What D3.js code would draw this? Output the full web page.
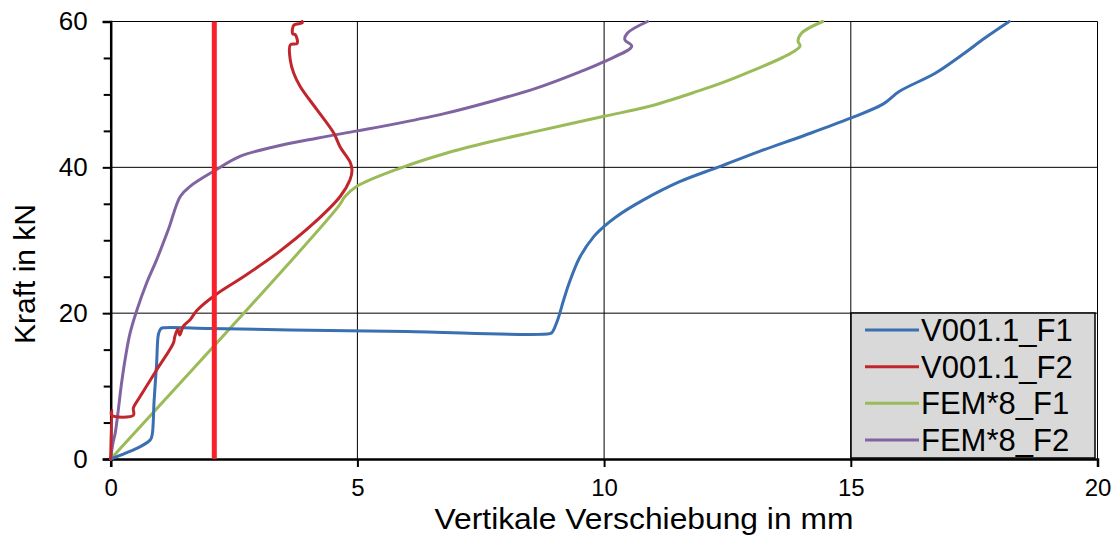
<!DOCTYPE html>
<html><head><meta charset="utf-8">
<script src="https://cdn.jsdelivr.net/npm/d3@7"></script>
<style>body{margin:0;background:#fff}svg{display:block}text{font-family:"Liberation Sans",Arial,sans-serif;fill:#000}</style>
</head><body>
<script>
const xTicks = [0, 5, 10, 15, 20];
const yTicks = [0, 20, 40, 60];
const yMinor = [5, 10, 15, 25, 30, 35, 45, 50, 55];
const seriesNames = ["V001.1_F1", "V001.1_F2", "FEM*8_F1", "FEM*8_F2"];
const seriesColors = ["#3a6fb2", "#c0262c", "#9bbb59", "#8064a2"];

const v1F1x = [0, 0.3, 0.6, 0.8, 0.84, 0.88, 0.93, 0.97, 1.02, 1.1, 2, 3.64, 6, 8.9, 8.95, 9.06, 9.18, 9.29, 9.51, 9.79, 10.0, 10.24, 10.79, 11.52, 12.34, 13.15, 14.07, 14.98, 15.66, 15.98, 16.71, 17.25, 17.71, 18.21];
const v1F1y = [0, 0.8, 1.7, 2.6, 3.3, 8, 13, 17.2, 17.9, 18.0, 17.9, 17.7, 17.5, 17.2, 17.4, 19.1, 21.8, 24.1, 27.7, 30.5, 31.9, 33.2, 35.5, 38.0, 40.1, 42.2, 44.4, 46.7, 48.7, 50.4, 52.9, 55.4, 57.7, 60];

const v1F2x = [0, 0.02, 0.02, 0.46, 0.46, 0.59, 0.93, 1.27, 1.30, 1.36, 1.40, 1.47, 1.61, 1.75, 2.12, 2.69, 3.37, 4.11, 4.65, 4.85, 4.89, 4.86, 4.65, 4.52, 4.18, 3.84, 3.71, 3.64, 3.64, 3.78, 3.74, 3.69, 3.71, 3.88, 3.88];
const v1F2y = [0, 6.7, 6.0, 6.0, 7.0, 8.5, 12.2, 15.9, 16.8, 17.8, 17.0, 18.2, 19.1, 20.4, 22.5, 25.0, 28.2, 32.3, 36.0, 38.3, 39.5, 40.6, 42.8, 44.7, 47.9, 51.1, 52.9, 54.7, 56.8, 57.0, 58.2, 58.3, 59.5, 59.8, 60];

const femF1x = [0, 4.6, 4.75, 4.99, 5.87, 6.78, 7.69, 8.6, 10.0, 10.88, 11.79, 12.7, 13.97, 13.93, 14.0, 14.43];
const femF1y = [0, 34.5, 36.0, 37.4, 39.9, 41.9, 43.5, 44.9, 47.0, 48.3, 50.2, 52.4, 56.6, 57.3, 58.4, 60];

const femF2x = [0, 0.04, 0.09, 0.15, 0.22, 0.30, 0.39, 0.53, 0.72, 0.93, 1.17, 1.41, 1.61, 2.12, 2.62, 3.30, 4.18, 5.0, 5.87, 6.78, 7.69, 8.6, 9.51, 10.0, 10.56, 10.42, 10.47, 10.88];
const femF2y = [0, 2.0, 3.5, 6.5, 10.4, 14.0, 17.2, 20.4, 24.0, 27.3, 31.5, 36.0, 37.4, 39.6, 41.5, 42.8, 44.0, 45.0, 46.1, 47.4, 49.0, 50.8, 53.1, 54.5, 56.6, 57.5, 58.4, 60];

const markerX = [2.1, 2.1];
const markerY = [0, 60];

const W = 1116, H = 536;
const svg = d3.select("body").append("svg").attr("width", W).attr("height", H);
const x = d3.scaleLinear().domain([0, 20]).range([110.7, 1097.5]);
const y = d3.scaleLinear().domain([0, 60]).range([459, 21.5]);

// grid
svg.append("g").selectAll("line").data(xTicks.slice(1)).join("line")
  .attr("x1", d => x(d)).attr("x2", d => x(d)).attr("y1", y(0)).attr("y2", y(60))
  .attr("stroke", "#000").attr("stroke-width", 1);
svg.append("g").selectAll("line").data(yTicks.slice(1)).join("line")
  .attr("x1", x(0)).attr("x2", x(20)).attr("y1", d => y(d)).attr("y2", d => y(d))
  .attr("stroke", "#000").attr("stroke-width", 1);

// axes
const yAxis = svg.append("g").attr("transform", `translate(${x(0)},0)`)
  .call(d3.axisLeft(y).tickValues(yTicks).tickSize(8).tickPadding(15).tickFormat(d3.format("d")));
const yAxisMinor = svg.append("g").attr("transform", `translate(${x(0)},0)`)
  .call(d3.axisLeft(y).tickValues(yMinor).tickSize(7).tickFormat(""));
const xAxis = svg.append("g").attr("transform", `translate(0,${y(0)})`)
  .call(d3.axisBottom(x).tickValues(xTicks).tickSize(8).tickPadding(12).tickFormat(d3.format("d")));
[yAxis, yAxisMinor, xAxis].forEach(g => {
  g.select(".domain").attr("stroke", "#000").attr("stroke-width", 2.5);
  g.selectAll(".tick line").attr("stroke", "#000").attr("stroke-width", 2);
  g.selectAll(".tick text").style("font-family", '"Liberation Sans",Arial,sans-serif').attr("fill", "#000");
});
yAxis.selectAll(".tick text").style("font-size", "26px");
xAxis.selectAll(".tick text").style("font-size", "24px");
yAxisMinor.select(".domain").remove();

// series
const plot = svg.append("g");
const line = d3.line().x(d => x(d[0])).y(d => y(d[1])).curve(d3.curveCatmullRom.alpha(0.5));
const zip = (a, b) => a.map((v, i) => [v, b[i]]);
const data = [zip(v1F1x, v1F1y), zip(v1F2x, v1F2y), zip(femF1x, femF1y), zip(femF2x, femF2y)];
const order = [2, 0, 3, 1];
order.forEach(i => {
  plot.append("path").attr("d", line(data[i])).attr("fill", "none")
    .attr("stroke", seriesColors[i]).attr("stroke-width", 3)
    .attr("stroke-linejoin", "round").attr("stroke-linecap", "round");
});
plot.append("path").attr("d", d3.line().x(d => x(d[0])).y(d => y(d[1]))(zip(markerX, markerY))).attr("fill", "none")
  .attr("stroke", "#f8202a").attr("stroke-width", 5);

// axis titles
svg.append("text").attr("transform", "translate(644,529) scale(1.06,1)").attr("text-anchor", "middle")
  .style("font-size", "30px").text("Vertikale Verschiebung in mm");
svg.append("text").attr("transform", "translate(35,274) rotate(-90)").attr("text-anchor", "middle")
  .style("font-size", "30px").text("Kraft in kN");

// legend
const lg = svg.append("g");
lg.append("rect").attr("x", 851).attr("y", 313).attr("width", 244).attr("height", 145)
  .attr("fill", "#d9d9d9").attr("stroke", "#000").attr("stroke-width", 1.5);
const rowY = d3.scalePoint().domain(seriesNames).range([330, 440]);
seriesNames.forEach((n, i) => {
  lg.append("line").attr("x1", 865).attr("x2", 919).attr("y1", rowY(n)).attr("y2", rowY(n))
    .attr("stroke", seriesColors[i]).attr("stroke-width", 3);
  lg.append("text").attr("x", 921).attr("y", rowY(n) + 11).style("font-size", "31px").text(n);
});
</script>
</body></html>
